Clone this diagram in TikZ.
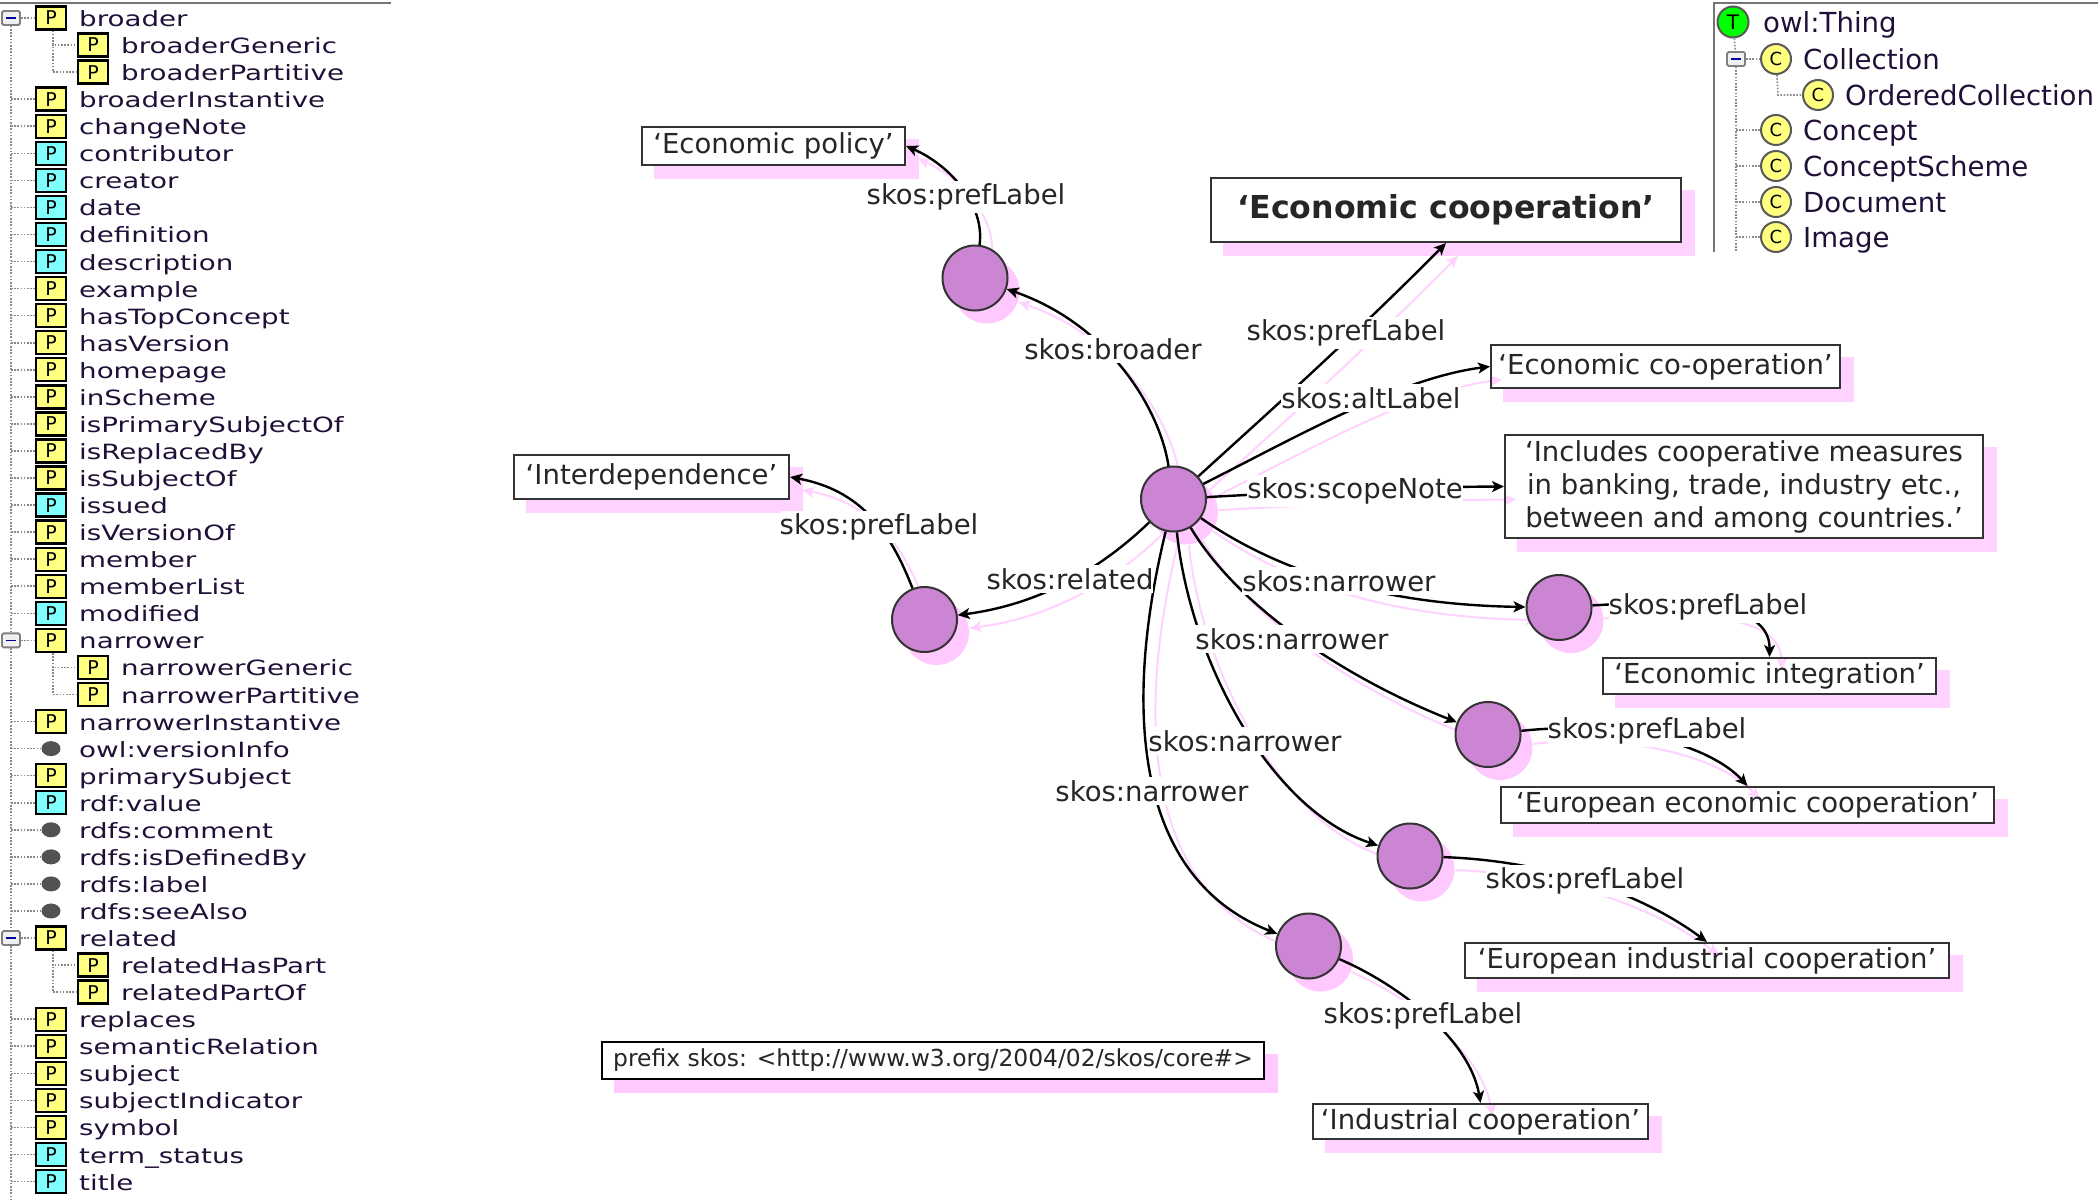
\documentclass[tikz,border=0pt]{standalone}
\usepackage{fontspec}
\setmainfont{DejaVu Sans}
\newfontfamily\treefont[FakeStretch=1.32]{DejaVu Sans}
\usetikzlibrary{arrows.meta,shapes.geometric}
\definecolor{pinkshade}{HTML}{FFD2FF}
\definecolor{pinkstrong}{HTML}{FFC8FF}
\definecolor{purplenode}{HTML}{CC85D3}
\definecolor{yellowp}{HTML}{FFFF80}
\definecolor{cyanp}{HTML}{80FFFF}
\definecolor{treeink}{HTML}{201038}
\definecolor{treegray}{HTML}{8A8A8A}
\pgfdeclarelayer{shadelayer}
\pgfdeclarelayer{pinkedgelayer}
\pgfsetlayers{shadelayer,pinkedgelayer,main}
\tikzset{
  x=1pt,y=-1pt,
  treeline/.style={draw=treegray,line width=1.6pt,dash pattern=on 1.6pt off 1.6pt},
  frameline/.style={draw=treegray!85!black,line width=2pt},
  pbox/.style={draw=black,line width=2.4pt,minimum width=30pt,minimum height=23pt,inner sep=0pt,text=black,font=\fontsize{19}{20}\selectfont},
  pdot/.style={ellipse,fill=black!68,minimum width=19pt,minimum height=15pt,inner sep=0pt},
  treetext/.style={anchor=base west,inner sep=0pt,text=treeink,font=\treefont\fontsize{21}{24}\selectfont},
  classtext/.style={anchor=base west,inner sep=0pt,text=treeink,font=\fontsize{27.6}{30}\selectfont},
  expbox/.style={draw=black!50,fill=black!6,rounded corners=1.5pt,line width=1.8pt,minimum width=18pt,minimum height=14pt,inner sep=0pt},
  minusmark/.style={draw=blue!60!black,line width=1.6pt},
  cnode/.style={circle,draw=black!65,line width=2pt,fill=yellowp,minimum size=30pt,inner sep=0pt,text=black,font=\fontsize{18}{19}\selectfont},
  tnode/.style={circle,draw=black!65,line width=2pt,fill=green,minimum size=31pt,inner sep=0pt,text=black,font=\fontsize{20}{21}\selectfont},
  res/.style={circle,draw=black!80,line width=2pt,fill=purplenode,minimum size=65pt,inner sep=0pt},
  litbox/.style={draw=black!80,line width=2pt,inner sep=0pt,align=center,font=\fontsize{27.5}{33}\selectfont,text=black!85},
  edgelabel/.style={fill=white,inner xsep=0pt,inner ysep=3pt,text=black!85,font=\fontsize{27.5}{30}\selectfont},
  mainedge/.style={draw=black,line width=2.4pt,-{Stealth[length=12pt,width=11pt,inset=3pt]}},
  shadeedge/.style={draw=pinkshade,line width=2pt,-{Stealth[length=12pt,width=11pt,inset=3pt]},transform canvas={shift={(12pt,-13pt)}}},
  shadefill/.style={fill=pinkshade}
}
\newcommand{\proprow}[3]{%
  \pgfmathsetmacro\ry{18+#1*27.06}
  \coordinate (s#1) at (11,\ry);
  \node[pbox,fill=#2] (b#1) at (51,\ry) {P};
  \node[treetext] (t#1) at (79,{\ry+8.5}) {#3};
  \draw[treeline] (s#1) -- (b#1);
}
\newcommand{\exprow}[3]{%
  \pgfmathsetmacro\ry{18+#1*27.06}
  \node[expbox] (x#1) at (11,\ry) {};
  \node[pbox,fill=#2] (b#1) at (51,\ry) {P};
  \node[treetext] (t#1) at (79,{\ry+8.5}) {#3};
  \draw[treeline] (x#1) -- (b#1);
  \draw[minusmark] ([xshift=-5pt]x#1.center) -- ([xshift=5pt]x#1.center);
}
\newcommand{\childrow}[3]{%
  \pgfmathsetmacro\ry{18+#1*27.06}
  \coordinate (e#1) at (53,\ry);
  \node[pbox,fill=yellowp] (b#1) at (93,\ry) {P};
  \node[treetext] (t#1) at (121,{\ry+8.5}) {#3};
  \draw[treeline] ([xshift=2pt]b#2.south) -- (e#1) -- (b#1);
}
\newcommand{\dotrow}[2]{%
  \pgfmathsetmacro\ry{18+#1*27.06}
  \coordinate (s#1) at (11,\ry);
  \node[pdot] (b#1) at (51,\ry) {};
  \node[treetext] (t#1) at (79,{\ry+8.5}) {#2};
  \draw[treeline] (s#1) -- (b#1);
}
\newcommand{\classrow}[3]{%
  \coordinate (cs#1) at (1736,#2);
  \node[cnode] (c#1) at (1776,#2) {C};
  \node[classtext] (ct#1) at (1803,{#2+10}) {#3};
  \draw[treeline] (cs#1) -- (c#1);
}
\newcommand{\boxshade}[2][pinkshade]{%
  \begin{pgfonlayer}{shadelayer}
    \fill[#1] ([xshift=13pt,yshift=-13pt]#2.north west) rectangle ([xshift=13pt,yshift=-13pt]#2.south east);
    \fill[white] (#2.north west) rectangle (#2.south east);
  \end{pgfonlayer}}
\newcommand{\circshade}[1]{%
  \begin{pgfonlayer}{shadelayer}
    \fill[pinkstrong] ([xshift=12pt,yshift=-13pt]#1.center) circle (32.5pt);
  \end{pgfonlayer}}
\newcommand{\alledges}[1]{%
  \draw[#1] (C0) .. controls (1160,410) and (1110,325) .. (B1);
  \draw[#1] (B1) .. controls (985,205) and (950,165) .. (EP.east);
  \draw[#1] (C0) .. controls (1260,420) and (1350,340) .. (EC.south);
  \draw[#1] (C0) .. controls (1300,435) and (1400,378) .. (ECO.west);
  \draw[#1] (C0) .. controls (1280,493) and (1400,487) .. (NOTE.west);
  \draw[#1] (C0) .. controls (1110,560) and (1050,603) .. (R1);
  \draw[#1] (R1) .. controls (890,530) and (860,490) .. (IN.east);
  \draw[#1] (C0) .. controls (1290,580) and (1400,605) .. (N1);
  \draw[#1] (C0) .. controls (1240,610) and (1350,680) .. (N2);
  \draw[#1] (C0) .. controls (1190,660) and (1270,810) .. (N3);
  \draw[#1] (C0) .. controls (1120,720) and (1140,880) .. (N4);
  \draw[#1] (N1) .. controls (1680,600) and (1770,600) .. (EI.north);
  \draw[#1] (N2) .. controls (1620,720) and (1710,745) .. (EEC.north);
  \draw[#1] (N3) .. controls (1530,860) and (1630,885) .. (EIC.north);
  \draw[#1] (N4) .. controls (1400,985) and (1470,1040) .. (IC.north);
}
\begin{document}
\begin{tikzpicture}
\useasboundingbox (0,0) rectangle (2098,1199);
% left property tree
\coordinate (lineL) at (0,3);
\coordinate (lineR) at (391,3);
\draw[frameline] (lineL) -- (lineR);
\exprow{0}{yellowp}{broader}
\childrow{1}{0}{broaderGeneric}
\childrow{2}{0}{broaderPartitive}
\proprow{3}{yellowp}{broaderInstantive}
\proprow{4}{yellowp}{changeNote}
\proprow{5}{cyanp}{contributor}
\proprow{6}{cyanp}{creator}
\proprow{7}{cyanp}{date}
\proprow{8}{cyanp}{definition}
\proprow{9}{cyanp}{description}
\proprow{10}{yellowp}{example}
\proprow{11}{yellowp}{hasTopConcept}
\proprow{12}{yellowp}{hasVersion}
\proprow{13}{yellowp}{homepage}
\proprow{14}{yellowp}{inScheme}
\proprow{15}{yellowp}{isPrimarySubjectOf}
\proprow{16}{yellowp}{isReplacedBy}
\proprow{17}{yellowp}{isSubjectOf}
\proprow{18}{cyanp}{issued}
\proprow{19}{yellowp}{isVersionOf}
\proprow{20}{yellowp}{member}
\proprow{21}{yellowp}{memberList}
\proprow{22}{cyanp}{modified}
\exprow{23}{yellowp}{narrower}
\childrow{24}{23}{narrowerGeneric}
\childrow{25}{23}{narrowerPartitive}
\proprow{26}{yellowp}{narrowerInstantive}
\dotrow{27}{owl:versionInfo}
\proprow{28}{yellowp}{primarySubject}
\proprow{29}{cyanp}{rdf:value}
\dotrow{30}{rdfs:comment}
\dotrow{31}{rdfs:isDefinedBy}
\dotrow{32}{rdfs:label}
\dotrow{33}{rdfs:seeAlso}
\exprow{34}{yellowp}{related}
\childrow{35}{34}{relatedHasPart}
\childrow{36}{34}{relatedPartOf}
\proprow{37}{yellowp}{replaces}
\proprow{38}{yellowp}{semanticRelation}
\proprow{39}{yellowp}{subject}
\proprow{40}{yellowp}{subjectIndicator}
\proprow{41}{yellowp}{symbol}
\proprow{42}{cyanp}{term\_status}
\proprow{43}{cyanp}{title}
\coordinate (trunkend) at (11,1199);
\draw[treeline] (x0) -- (x23);
\draw[treeline] (x23) -- (x34);
\draw[treeline] (x34) -- (trunkend);
% right class tree
\coordinate (fa) at (1714,252);
\coordinate (fb) at (1714,3);
\coordinate (fc) at (2098,3);
\draw[frameline] (fa) -- (fb) -- (fc);
\node[tnode] (T) at (1733,22) {T};
\node[classtext] (Tt) at (1763,33) {owl:Thing};
\node[expbox] (xc) at (1736,59) {};
\draw[minusmark] ([xshift=-5pt]xc.center) -- ([xshift=5pt]xc.center);
\node[cnode] (c1) at (1776,59) {C};
\node[classtext] (ct1) at (1803,70) {Collection};
\draw[treeline] (xc) -- (c1);
\node[cnode] (c2) at (1818,95) {C};
\node[classtext] (ct2) at (1845,105) {OrderedCollection};
\coordinate (ce) at (1778,95);
\draw[treeline] (c1) -- (ce) -- (c2);
\classrow{3}{130}{Concept}
\classrow{4}{166}{ConceptScheme}
\classrow{5}{202}{Document}
\classrow{6}{237}{Image}
\coordinate (ctend) at (1736,252);
\draw[treeline] (T) -- (xc);
\draw[treeline] (xc) -- (ctend);
% graph nodes
\node[res] (C0) at (1173.5,499) {};
\node[res] (B1) at (975,278) {};
\node[res] (R1) at (924.5,619.5) {};
\node[res] (N1) at (1559,607.5) {};
\node[res] (N2) at (1488,734.5) {};
\node[res] (N3) at (1410,856) {};
\node[res] (N4) at (1308.5,946) {};
\circshade{C0}\circshade{B1}\circshade{R1}\circshade{N1}\circshade{N2}\circshade{N3}\circshade{N4}
\node[litbox,minimum width=263pt,minimum height=38pt] (EP) at (773.5,146) {‘Economic policy’};
\node[litbox,minimum width=470pt,minimum height=64pt,font=\bfseries\fontsize{31.6}{36}\selectfont] (EC) at (1446,210) {‘Economic cooperation’};
\node[litbox,minimum width=349pt,minimum height=43pt] (ECO) at (1665.5,366.5) {‘Economic co-operation’};
\node[litbox,minimum width=478pt,minimum height=103pt] (NOTE) at (1744,486.5) {‘Includes cooperative measures\\in banking, trade, industry etc.,\\between and among countries.’};
\node[litbox,minimum width=275pt,minimum height=44pt] (IN) at (651.5,477) {‘Interdependence’};
\node[litbox,minimum width=333pt,minimum height=36pt] (EI) at (1769.5,676) {‘Economic integration’};
\node[litbox,minimum width=493pt,minimum height=36pt] (EEC) at (1747.5,805) {‘European economic cooperation’};
\node[litbox,minimum width=484pt,minimum height=35pt] (EIC) at (1707,960.5) {‘European industrial cooperation’};
\node[litbox,minimum width=335pt,minimum height=35pt] (IC) at (1480.5,1121.5) {‘Industrial cooperation’};
\node[litbox,minimum width=662pt,minimum height=37pt,line width=2.8pt,draw=black,font=\fontsize{23.4}{26}\selectfont] (PF) at (933,1060.5) {prefix skos: <http://www.w3.org/2004/02/skos/core\#>};
\boxshade{EP}\boxshade{EC}\boxshade{ECO}\boxshade{NOTE}\boxshade{IN}\boxshade{EI}\boxshade{EEC}\boxshade{EIC}\boxshade{IC}\boxshade[pinkstrong]{PF}
% edges
\begin{pgfonlayer}{pinkedgelayer}
\alledges{shadeedge}
\end{pgfonlayer}
\alledges{mainedge}
% edge labels
\node[edgelabel] (la1) at (966,197) {skos:prefLabel};
\node[edgelabel] (la2) at (1113,349) {skos:broader};
\node[edgelabel] (la3) at (1346,333) {skos:prefLabel};
\node[edgelabel] (la4) at (1371,398) {skos:altLabel};
\node[edgelabel] (la5) at (1355,491) {skos:scopeNote};
\node[edgelabel] (la6) at (879,527) {skos:prefLabel};
\node[edgelabel] (la7) at (1070,579) {skos:related};
\node[edgelabel] (la8) at (1339,581) {skos:narrower};
\node[edgelabel] (la9) at (1708,607) {skos:prefLabel};
\node[edgelabel] (la10) at (1292,639) {skos:narrower};
\node[edgelabel] (la11) at (1647,731) {skos:prefLabel};
\node[edgelabel] (la12) at (1245,741) {skos:narrower};
\node[edgelabel] (la13) at (1152,791) {skos:narrower};
\node[edgelabel] (la14) at (1585,881) {skos:prefLabel};
\node[edgelabel] (la15) at (1423,1016) {skos:prefLabel};
\end{tikzpicture}
\end{document}
